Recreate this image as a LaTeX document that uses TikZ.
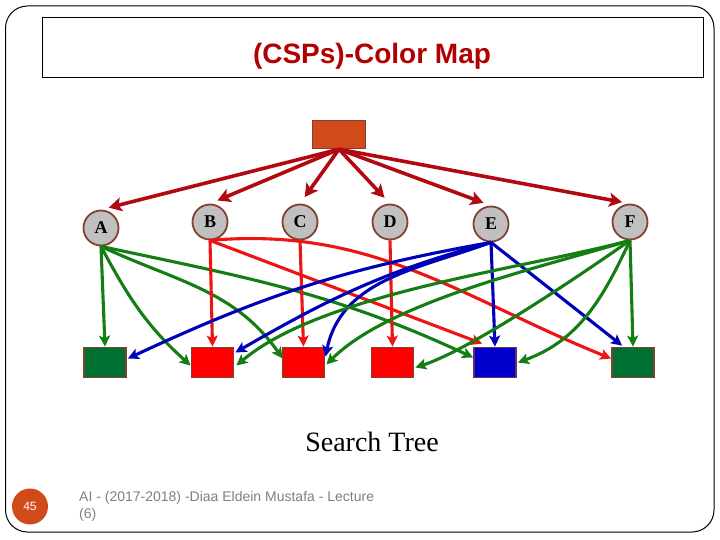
\documentclass[tikz,border=0pt]{standalone}
\usepackage{fontspec}
\setmainfont{Liberation Serif}
\newfontfamily\arialfont{Liberation Sans}
\usetikzlibrary{arrows.meta,calc}
\definecolor{rootred}{RGB}{178,8,16}
\definecolor{titlered}{RGB}{178,0,0}
\definecolor{ered}{RGB}{238,20,20}
\definecolor{egreen}{RGB}{20,125,20}
\definecolor{eblue}{RGB}{0,0,185}
\definecolor{orangefill}{RGB}{208,74,26}
\definecolor{brownline}{RGB}{130,65,45}
\definecolor{circfill}{RGB}{192,192,192}
\definecolor{sqgreen}{RGB}{0,112,50}
\definecolor{sqred}{RGB}{255,0,0}
\definecolor{sqblue}{RGB}{0,0,204}
\definecolor{bluebord}{RGB}{100,50,90}
\definecolor{footgray}{RGB}{128,128,128}
\begin{document}
\begin{tikzpicture}[x=1pt,y=1pt,
  varnode/.style={circle, draw=brownline, line width=1.8pt, fill=circfill, minimum size=35pt, inner sep=0pt, font=\bfseries\fontsize{18}{18}\selectfont},
  valbox/.style={rectangle, draw=brownline, line width=1.8pt, minimum width=42pt, minimum height=30pt, inner sep=0pt},
  rootarrow/.style={draw=rootred, line width=3.6pt, -{Stealth[length=13pt,width=14pt,inset=3pt]}, shorten >=8pt},
  edgebase/.style={line width=3.1pt, -{Stealth[length=11pt,width=11pt,inset=2.5pt]}},
  gedge/.style={edgebase, draw=egreen},
  redge/.style={edgebase, draw=ered},
  bedge/.style={edgebase, draw=eblue},
]
\useasboundingbox (0,0) rectangle (720,-540);
% slide frame and title box
\draw[line width=1pt, rounded corners=22pt] (5.5,-6) rectangle (714,-532);
\draw[line width=1pt] (42,-18) rectangle (703,-78);
\node[font=\arialfont\bfseries\fontsize{28}{28}\selectfont, text=titlered, inner sep=0pt] (title) at (372,-56) {(CSPs)-Color Map};

% root
\node[rectangle, draw=brownline, line width=1.5pt, fill=orangefill, minimum width=53pt, minimum height=28pt, inner sep=0pt] (root) at (339,-134.5) {};

% variables
\node[varnode] (A) at (101,-228) {A};
\node[varnode] (B) at (210,-222) {B};
\node[varnode] (C) at (300,-222) {C};
\node[varnode] (D) at (390,-222) {D};
\node[varnode] (E) at (491,-224) {E};
\node[varnode] (F) at (630,-222) {F};

% values
\node[valbox, fill=sqgreen] (s1) at (105,-362.5) {};
\node[valbox, fill=sqred] (s2) at (212.5,-362.5) {};
\node[valbox, fill=sqred] (s3) at (303.5,-362.5) {};
\node[valbox, fill=sqred] (s4) at (392.5,-362.5) {};
\node[valbox, fill=sqblue, draw=bluebord] (s5) at (495,-362.5) {};
\node[valbox, fill=sqgreen] (s6) at (633,-362.5) {};

% root arrows
\draw[rootarrow] (root.south) -- (A.north);
\draw[rootarrow] (root.south) -- (B.north);
\draw[rootarrow] (root.south) -- (C.north);
\draw[rootarrow] (root.south) -- (D.north);
\draw[rootarrow] (root.south) -- (E.north);
\draw[rootarrow] (root.south) -- (F.north);

% A (green)
\draw[gedge] (A.south) -- (s1.north);
\draw[gedge] (A.south) to[out=-62,in=138] ($(s2.west)+(0,-3)$);
\draw[gedge] (A.south) to[out=-25,in=125] ($(s3.west)+(1,4)$);
\draw[gedge] (A.south) to[out=-12,in=155] ($(s5.west)+(0,5)$);

% B, C, D (red)
\draw[redge] (B.south) -- (s2.north);
\draw[redge] (B.south) -- ($(s5.north west)+(9,3)$);
\draw[redge] (B.south) to[out=5,in=158] ($(s6.west)+(0,4)$);
\draw[redge] (C.south) -- (s3.north);
\draw[redge] (D.south) -- (s4.north);

% E (blue)
\draw[bedge] (E.south) -- (s5.north);
\draw[bedge] (E.south) -- ($(s6.north west)+(11,1)$);
\draw[bedge] (E.south) to[out=190,in=25] ($(s1.east)+(1,4)$);
\draw[bedge] (E.south) to[out=195,in=30] ($(s2.east)+(1,10)$);
\draw[bedge] (E.south) to[out=200,in=78] ($(s3.east)+(0,6)$);

% F (green)
\draw[gedge] (F.south) -- (s6.north);
\draw[gedge] (F.south) to[out=195,in=40,looseness=0.7] ($(s2.east)+(2,-3)$);
\draw[gedge] (F.south) to[out=197,in=45,looseness=0.7] ($(s3.east)+(1,-2)$);
\draw[gedge] (F.south) to[out=215,in=18,looseness=0.6] ($(s4.east)+(1,-5)$);
\draw[gedge] (F.south) to[out=245,in=20] ($(s5.east)+(1,0)$);

% caption
\node[font=\fontsize{28}{28}\selectfont, inner sep=0pt] (cap) at (372,-442) {Search Tree};

% footer
\node[circle, fill=orangefill, minimum size=36pt, inner sep=0pt, text=white, font=\arialfont\fontsize{12}{12}\selectfont] (pg) at (30,-506.5) {45};
\node[anchor=north west, align=left, inner sep=0pt, text=footgray, font=\arialfont\fontsize{14}{16.5}\selectfont] (foot) at (79,-491.5) {AI - (2017-2018) -Diaa Eldein Mustafa - Lecture\\(6)};
\end{tikzpicture}
\end{document}
